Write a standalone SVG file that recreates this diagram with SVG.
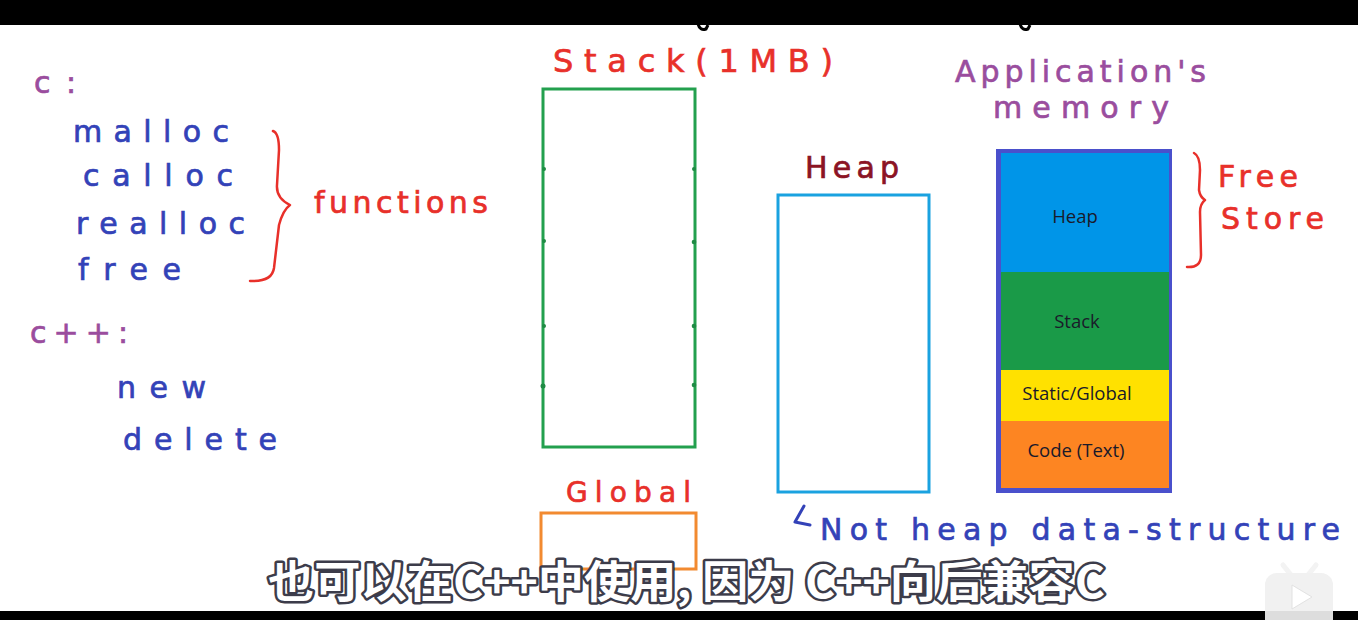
<svg xmlns="http://www.w3.org/2000/svg" width="1358" height="620" viewBox="0 0 1358 620">
<style>
.hw{font-family:"DejaVu Sans","Noto Sans",sans-serif;font-weight:normal;stroke-width:0.7}
.pur{fill:#9a4d9e;stroke:#9a4d9e}
.blu{fill:#3342b8;stroke:#3342b8}
.red{fill:#e8302a;stroke:#e8302a}
.dred{fill:#8b1424;stroke:#8b1424}
.seg{font-family:"Open Sans","Liberation Sans",sans-serif;font-size:18.5px;fill:#1a1a2a;text-anchor:middle}
.brace{fill:none;stroke:#e8302a;stroke-width:2.5;stroke-linecap:round;stroke-linejoin:round}
.sub{font-family:"Noto Sans CJK SC","Noto Sans",sans-serif;font-size:44px;font-weight:700;fill:#ffffff;stroke:#3c3c4a;stroke-width:5;paint-order:stroke;stroke-linejoin:round}
</style>
<rect width="1358" height="620" fill="#ffffff"/>
<rect x="0" y="0" width="1358" height="25" fill="#000000"/>
<rect x="0" y="611" width="1358" height="9" fill="#000000"/>
<path d="M698 24 Q700 31 706 29 L708 25" fill="none" stroke="#000" stroke-width="3"/>
<path d="M1020 24 Q1022 31 1028 29 L1030 25" fill="none" stroke="#000" stroke-width="3"/>

<g id="c-label"><text class="hw pur" x="34" y="93" font-size="30" textLength="42" lengthAdjust="spacing">c :</text></g>
<g id="c-functions" class="hw blu" font-size="30">
<text x="73" y="142" textLength="156" lengthAdjust="spacing">malloc</text>
<text x="83" y="186" textLength="150" lengthAdjust="spacing">calloc</text>
<text x="76" y="234" textLength="169" lengthAdjust="spacing">realloc</text>
<text x="78" y="280" textLength="103" lengthAdjust="spacing">free</text>
</g>
<g id="functions-brace">
<path class="brace" d="M273 131 Q279 133 279 150 L277 185 Q276 198 290 205 Q283 210 279 225 L274 268 Q272 282 250 281"/>
<text class="hw red" x="314" y="213" font-size="30" textLength="174" lengthAdjust="spacing">functions</text>
</g>
<g id="cpp-label"><text class="hw pur" x="30" y="343" font-size="30" textLength="98" lengthAdjust="spacing">c++:</text></g>
<g id="cpp-ops" class="hw blu" font-size="30">
<text x="117" y="398" textLength="89" lengthAdjust="spacing">new</text>
<text x="123" y="450" textLength="154" lengthAdjust="spacing">delete</text>
</g>

<g id="stack">
<text class="hw red" x="553" y="72" font-size="32" textLength="280" lengthAdjust="spacing">Stack(1MB)</text>
<rect x="543" y="89" width="152" height="358" fill="none" stroke="#23a04e" stroke-width="3"/>
<g fill="#1f8a44">
<circle cx="544" cy="169" r="2"/><circle cx="694" cy="169" r="2"/>
<circle cx="544" cy="241" r="2"/><circle cx="694" cy="242" r="2.3"/>
<circle cx="544" cy="326" r="2"/><circle cx="694" cy="326" r="2.3"/>
<circle cx="543" cy="386" r="2.5"/><circle cx="694" cy="385" r="2.3"/>
</g>
</g>

<g id="global">
<text class="hw red" x="566" y="502" font-size="28" textLength="125" lengthAdjust="spacing">Global</text>
<rect x="541" y="513" width="155" height="56" fill="none" stroke="#f28a30" stroke-width="3"/>
</g>

<g id="heap">
<text class="hw dred" x="805" y="178" font-size="30" textLength="94" lengthAdjust="spacing">Heap</text>
<rect x="778" y="195" width="151" height="297" fill="none" stroke="#1aa2e0" stroke-width="3"/>
<path d="M804 506 L795 522 L810 525" fill="none" stroke="#3342b8" stroke-width="3" stroke-linecap="round" stroke-linejoin="round"/>
<text class="hw blu" x="820" y="540" font-size="30" textLength="520" lengthAdjust="spacing">Not heap data-structure</text>
</g>

<g id="app-memory">
<text class="hw pur" x="955" y="82" font-size="30" textLength="251" lengthAdjust="spacing">Application's</text>
<text class="hw pur" x="993" y="118" font-size="30" textLength="176" lengthAdjust="spacing">memory</text>
<rect x="996" y="149" width="176" height="344" fill="#4a50cc"/>
<rect x="1001" y="153" width="168" height="119" fill="#0095e8"/>
<rect x="1001" y="272" width="168" height="98" fill="#1a9a48"/>
<rect x="1001" y="370" width="168" height="51" fill="#ffe100"/>
<rect x="1001" y="421" width="168" height="67" fill="#fd8522"/>
<text class="seg" x="1075" y="223">Heap</text>
<text class="seg" x="1077" y="328">Stack</text>
<text class="seg" x="1077" y="400">Static/Global</text>
<text class="seg" x="1076" y="457">Code (Text)</text>
</g>

<g id="free-store">
<path class="brace" d="M1194 153 Q1200 156 1200 170 L1199 190 Q1200 197 1205 200 Q1200 204 1200 212 L1201 255 Q1201 268 1187 267"/>
<text class="hw red" x="1218" y="187" font-size="30" textLength="80" lengthAdjust="spacing">Free</text>
<text class="hw red" x="1221" y="229" font-size="30" textLength="103" lengthAdjust="spacing">Store</text>
</g>

<g id="subtitle">
<text class="sub" x="268" y="598" textLength="837" lengthAdjust="spacingAndGlyphs">也可以在C++中使用, 因为 C++向后兼容C</text>
</g>

<g id="logo" opacity="0.92">
<path d="M1283 565 L1291 575 M1316 565 L1308 575" stroke="#f2f2f2" stroke-width="5" stroke-linecap="round"/>
<rect x="1265" y="573" width="68" height="60" rx="12" fill="#f0f0f0"/>
<path d="M1292 585 L1312 597 L1292 609 Z" fill="#ffffff" stroke="#e0e0e0" stroke-width="1"/>
</g>
</svg>
